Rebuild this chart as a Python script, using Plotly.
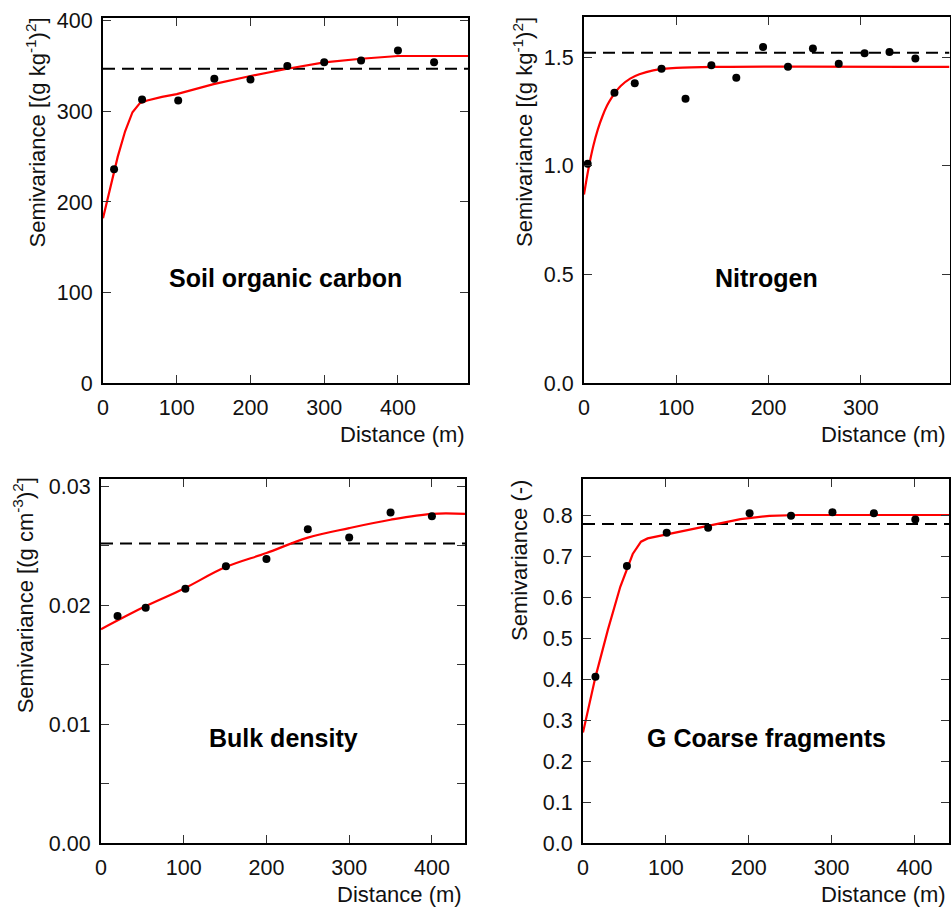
import plotly.graph_objects as go

# ---------------- data ----------------
soc_lag = [15, 53, 102, 151, 200, 250, 300, 350, 400, 449]
soc_gamma = [236, 313, 312, 336, 335, 350, 354, 356, 367, 354]
soc_sill = 347
soc_fit_x = [0, 10, 20, 30, 40, 50, 60, 80, 100, 150, 200, 250, 300, 350, 380, 400, 495]
soc_fit_y = [182, 217, 250, 278, 299, 309, 312, 316, 319, 330, 339, 347, 354, 358, 360, 361, 361]

n_lag = [4, 33, 55, 84, 110, 138, 165, 194, 221, 248, 276, 304, 331, 359]
n_gamma = [1.01, 1.336, 1.38, 1.446, 1.308, 1.462, 1.405, 1.546, 1.456, 1.539, 1.469, 1.518, 1.524, 1.494]
n_sill = 1.52
n_fit_x = [0, 5, 10, 15, 20, 25, 30, 40, 50, 60, 75, 100, 150, 396]
n_fit_y = [0.868, 0.99, 1.09, 1.168, 1.228, 1.277, 1.314, 1.368, 1.401, 1.421, 1.439, 1.45, 1.455, 1.455]

bd_lag = [20, 54, 102, 151, 200, 250, 300, 350, 400]
bd_gamma = [0.0191, 0.0198, 0.0214, 0.0233, 0.0239, 0.0264, 0.0257, 0.0278, 0.0275]
bd_sill = 0.0252
bd_fit_x = [0, 50, 100, 150, 200, 250, 300, 350, 400, 440]
bd_fit_y = [0.0180, 0.0198, 0.0214, 0.0232, 0.0244, 0.0257, 0.0265, 0.0272, 0.0277, 0.0277]

cf_lag = [15, 53, 101, 151, 201, 251, 301, 351, 401]
cf_gamma = [0.406, 0.676, 0.757, 0.769, 0.804, 0.798, 0.807, 0.804, 0.789]
cf_sill = 0.778
cf_fit_x = [0, 15, 30, 45, 60, 70, 78, 100, 125, 160, 190, 225, 260, 442]
cf_fit_y = [0.27, 0.405, 0.52, 0.625, 0.705, 0.735, 0.743, 0.752, 0.763, 0.778, 0.79, 0.798, 0.80, 0.80]

titles = ["Soil organic carbon", "Nitrogen", "Bulk density", "G Coarse fragments"]
ytitles = ["Semivariance [(g kg<sup>-1</sup>)<sup>2</sup>]",
           "Semivariance [(g kg<sup>-1</sup>)<sup>2</sup>]",
           "Semivariance [(g cm<sup>-3</sup>)<sup>2</sup>]",
           "Semivariance (-)"]
xtitle = "Distance (m)"

# ---------------- layout geometry ----------------
FW, FH = 951, 907
FONT = "Liberation Sans, Arial, sans-serif"

def fx(px):
    return px / FW

def fy(py):
    return 1 - py / FH

def xd(a, b):
    return [fx(a), fx(b)]

def yd(top, bottom):
    return [fy(bottom), fy(top)]

panels = [
    dict(lag=soc_lag, g=soc_gamma, sill=soc_sill, fx=soc_fit_x, fy=soc_fit_y,
         xdom=xd(103, 468), ydom=yd(18.3, 383.3), xr=[0, 495], yr=[0, 402.6],
         ytick=dict(tickvals=[0, 100, 200, 300, 400], ticktext=["0", "100", "200", "300", "400"]),
         shape="linear",
         ytitle_pos=(35, 132.5), xtitle_pos=(467, 435)),
    dict(lag=n_lag, g=n_gamma, sill=n_sill, fx=n_fit_x, fy=n_fit_y,
         xdom=xd(584, 949.5), ydom=yd(17.3, 383.3), xr=[0, 396], yr=[0, 1.683],
         ytick=dict(tickvals=[0, 0.5, 1.0, 1.5], ticktext=["0.0", "0.5", "1.0", "1.5"]),
         shape="spline",
         ytitle_pos=(522.5, 132.5), xtitle_pos=(948, 435)),
    dict(lag=bd_lag, g=bd_gamma, sill=bd_sill, fx=bd_fit_x, fy=bd_fit_y,
         xdom=xd(101, 465), ydom=yd(479.3, 843.3), xr=[0, 440], yr=[0, 0.0306],
         ytick=dict(tickvals=[0, 0.01, 0.02, 0.03], ticktext=["0.00", "0.01", "0.02", "0.03"]),
         shape="spline",
         ytitle_pos=(23.3, 595), xtitle_pos=(464, 894)),
    dict(lag=cf_lag, g=cf_gamma, sill=cf_sill, fx=cf_fit_x, fy=cf_fit_y,
         xdom=xd(583, 949.3), ydom=yd(479.3, 843.3), xr=[0, 442], yr=[0, 0.887],
         ytick=dict(tickvals=[0, 0.1, 0.2, 0.3, 0.4, 0.5, 0.6, 0.7, 0.8],
                    ticktext=["0.0", "0.1", "0.2", "0.3", "0.4", "0.5", "0.6", "0.7", "0.8"]),
         shape="linear",
         ytitle_pos=(519, 561), xtitle_pos=(948, 894)),
]

fig = go.Figure()
annotations = []
layout_axes = {}

for i, p in enumerate(panels):
    n = "" if i == 0 else str(i + 1)
    xa, ya = "x" + n, "y" + n
    # dashed sill line
    fig.add_trace(go.Scatter(x=[p["xr"][0], p["xr"][1]], y=[p["sill"], p["sill"]],
                             mode="lines", xaxis=xa, yaxis=ya,
                             line=dict(color="black", width=2, dash="12px,7px"),
                             showlegend=False, hoverinfo="skip"))
    # fitted model
    fig.add_trace(go.Scatter(x=p["fx"], y=p["fy"], mode="lines", xaxis=xa, yaxis=ya,
                             line=dict(color="#ff0000", width=2.2, shape=p["shape"]),
                             showlegend=False))
    # experimental semivariance
    fig.add_trace(go.Scatter(x=p["lag"], y=p["g"], mode="markers", xaxis=xa, yaxis=ya,
                             marker=dict(color="black", size=8),
                             showlegend=False, cliponaxis=False))

    common = dict(showline=True, linecolor="black", linewidth=2, mirror="ticks",
                  ticks="inside", ticklen=8, tickwidth=1.3, tickcolor="#333",
                  showgrid=False, zeroline=False, fixedrange=True, automargin=False,
                  tickfont=dict(family=FONT, size=21.5, color="#111"))
    layout_axes["xaxis" + n] = dict(domain=p["xdom"], range=p["xr"], anchor=ya,
                                    tickvals=[0, 100, 200, 300, 400],
                                    ticktext=["0", "100", "200", "300", "400"],
                                    ticklabelstandoff=4, **common)
    yextra = {}
    if i == 2:
        yextra["minor"] = dict(tickvals=[0.005, 0.015, 0.025], ticks="inside",
                               ticklen=8, tickwidth=1.3, tickcolor="#333")
    layout_axes["yaxis" + n] = dict(domain=p["ydom"], range=p["yr"], anchor=xa,
                                    ticklabelstandoff=4, **p["ytick"], **common, **yextra)

    # panel label
    annotations.append(dict(text="<b>%s</b>" % titles[i], xref=xa + " domain", yref=ya + " domain",
                            x=0.5, y=0.288, xanchor="center", yanchor="middle", showarrow=False,
                            font=dict(family=FONT, size=25, color="black")))
    # y title
    tx, ty = p["ytitle_pos"]
    annotations.append(dict(text=ytitles[i], xref="paper", yref="paper", x=fx(tx), y=fy(ty),
                            xanchor="center", yanchor="middle", textangle=-90, showarrow=False,
                            font=dict(family=FONT, size=22, color="#111")))
    # x title
    qx, qy = p["xtitle_pos"]
    annotations.append(dict(text=xtitle, xref="paper", yref="paper", x=fx(qx), y=fy(qy),
                            xanchor="right", yanchor="middle", showarrow=False,
                            font=dict(family=FONT, size=22, color="#111")))

fig.update_layout(width=FW, height=FH, margin=dict(l=0, r=0, t=0, b=0),
                  autosize=False,
                  paper_bgcolor="white", plot_bgcolor="white",
                  annotations=annotations, **layout_axes)

# remove the default page margin so the 951x907 figure fills the window exactly
fig.write_html("out.html",
               config={"displayModeBar": False},
               post_script="document.body.style.margin='0';document.body.style.overflow='hidden';")
